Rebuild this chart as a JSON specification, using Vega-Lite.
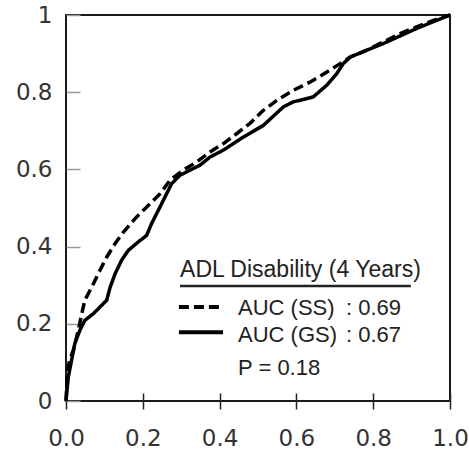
{
  "$schema": "https://vega.github.io/schema/vega-lite/v6.json",
  "width": 384,
  "height": 386,
  "autosize": {"type": "none"},
  "padding": {"left": 66, "top": 15, "right": 19, "bottom": 50},
  "background": "white",
  "config": {
    "view": {"stroke": "#1a1a1a", "strokeWidth": 2},
    "axis": {"grid": false, "domain": false, "title": null, "labelFont": "DejaVu Sans", "labelFontSize": 23, "labelColor": "#333", "labelFlush": false}
  },
  "datasets": {
    "curves": [
      {"s": "GS", "x": 0.0, "y": 0.0},
      {"s": "GS", "x": 0.006, "y": 0.062},
      {"s": "GS", "x": 0.023, "y": 0.149},
      {"s": "GS", "x": 0.036, "y": 0.183},
      {"s": "GS", "x": 0.049, "y": 0.209},
      {"s": "GS", "x": 0.071, "y": 0.226},
      {"s": "GS", "x": 0.093, "y": 0.248},
      {"s": "GS", "x": 0.106, "y": 0.261},
      {"s": "GS", "x": 0.115, "y": 0.295},
      {"s": "GS", "x": 0.128, "y": 0.33},
      {"s": "GS", "x": 0.145, "y": 0.365},
      {"s": "GS", "x": 0.162, "y": 0.39},
      {"s": "GS", "x": 0.188, "y": 0.412},
      {"s": "GS", "x": 0.21, "y": 0.429},
      {"s": "GS", "x": 0.223, "y": 0.46},
      {"s": "GS", "x": 0.245, "y": 0.503},
      {"s": "GS", "x": 0.262, "y": 0.537},
      {"s": "GS", "x": 0.275, "y": 0.563},
      {"s": "GS", "x": 0.297, "y": 0.585},
      {"s": "GS", "x": 0.323, "y": 0.598},
      {"s": "GS", "x": 0.349, "y": 0.611},
      {"s": "GS", "x": 0.375, "y": 0.632},
      {"s": "GS", "x": 0.41, "y": 0.65},
      {"s": "GS", "x": 0.462, "y": 0.684},
      {"s": "GS", "x": 0.514, "y": 0.714},
      {"s": "GS", "x": 0.566, "y": 0.762},
      {"s": "GS", "x": 0.592, "y": 0.775},
      {"s": "GS", "x": 0.618, "y": 0.781},
      {"s": "GS", "x": 0.644, "y": 0.788},
      {"s": "GS", "x": 0.679, "y": 0.818},
      {"s": "GS", "x": 0.705, "y": 0.848},
      {"s": "GS", "x": 0.722, "y": 0.874},
      {"s": "GS", "x": 0.74, "y": 0.891},
      {"s": "GS", "x": 0.826, "y": 0.926},
      {"s": "GS", "x": 0.913, "y": 0.965},
      {"s": "GS", "x": 1.0, "y": 1.0},
      {"s": "SS", "x": 0.0, "y": 0.0},
      {"s": "SS", "x": 0.003, "y": 0.064},
      {"s": "SS", "x": 0.009, "y": 0.105},
      {"s": "SS", "x": 0.019, "y": 0.131},
      {"s": "SS", "x": 0.032, "y": 0.183},
      {"s": "SS", "x": 0.041, "y": 0.226},
      {"s": "SS", "x": 0.049, "y": 0.261},
      {"s": "SS", "x": 0.067, "y": 0.295},
      {"s": "SS", "x": 0.084, "y": 0.33},
      {"s": "SS", "x": 0.106, "y": 0.373},
      {"s": "SS", "x": 0.128, "y": 0.408},
      {"s": "SS", "x": 0.149, "y": 0.437},
      {"s": "SS", "x": 0.184, "y": 0.477},
      {"s": "SS", "x": 0.219, "y": 0.511},
      {"s": "SS", "x": 0.245, "y": 0.537},
      {"s": "SS", "x": 0.271, "y": 0.572},
      {"s": "SS", "x": 0.305, "y": 0.598},
      {"s": "SS", "x": 0.34, "y": 0.619},
      {"s": "SS", "x": 0.375, "y": 0.645},
      {"s": "SS", "x": 0.41, "y": 0.667},
      {"s": "SS", "x": 0.445, "y": 0.693},
      {"s": "SS", "x": 0.479, "y": 0.719},
      {"s": "SS", "x": 0.514, "y": 0.753},
      {"s": "SS", "x": 0.549, "y": 0.779},
      {"s": "SS", "x": 0.592, "y": 0.805},
      {"s": "SS", "x": 0.635, "y": 0.826},
      {"s": "SS", "x": 0.679, "y": 0.852},
      {"s": "SS", "x": 0.714, "y": 0.874},
      {"s": "SS", "x": 0.74, "y": 0.891},
      {"s": "SS", "x": 0.783, "y": 0.909},
      {"s": "SS", "x": 0.826, "y": 0.93},
      {"s": "SS", "x": 0.87, "y": 0.952},
      {"s": "SS", "x": 0.913, "y": 0.969},
      {"s": "SS", "x": 0.957, "y": 0.986},
      {"s": "SS", "x": 1.0, "y": 1.0}
    ],
    "keys": [
      {"s": "SS", "x": 0.294, "x2": 0.409, "y": 0.2435},
      {"s": "GS", "x": 0.294, "x2": 0.409, "y": 0.178}
    ],
    "underline": [
      {"x": 0.297, "x2": 0.898, "y": 0.298}
    ],
    "title": [
      {"t": "ADL Disability (4 Years)", "x": 0.297, "y": 0.32}
    ],
    "rows": [
      {"t": "AUC (SS)", "x": 0.448, "y": 0.222},
      {"t": ": 0.69", "x": 0.729, "y": 0.222},
      {"t": "AUC (GS)", "x": 0.448, "y": 0.153},
      {"t": ": 0.67", "x": 0.729, "y": 0.153},
      {"t": "P = 0.18", "x": 0.448, "y": 0.0666}
    ]
  },
  "layer": [
    {
      "data": {"name": "curves"},
      "mark": {"type": "line", "color": "black", "strokeWidth": 3.5, "strokeJoin": "round"},
      "encoding": {
        "x": {
          "field": "x", "type": "quantitative",
          "scale": {"domain": [0, 1], "nice": false},
          "axis": {"values": [0, 0.2, 0.4, 0.6, 0.8, 1], "format": ".1f", "offset": -8, "tickSize": 16, "tickColor": "#222", "tickWidth": 1.5, "labelPadding": 18}
        },
        "y": {
          "field": "y", "type": "quantitative",
          "scale": {"domain": [0, 1], "nice": false},
          "axis": {"values": [0, 0.2, 0.4, 0.6, 0.8, 1], "format": ".1~f", "offset": -14, "tickSize": 14, "tickColor": "#999", "tickWidth": 1.5, "labelPadding": 14}
        },
        "detail": {"field": "s"},
        "strokeDash": {"field": "s", "type": "nominal", "scale": {"domain": ["SS", "GS"], "range": [[10, 5], [1, 0]]}, "legend": null}
      }
    },
    {
      "data": {"name": "keys"},
      "mark": {"type": "rule", "color": "black", "strokeWidth": 4},
      "encoding": {
        "x": {"field": "x", "type": "quantitative"},
        "x2": {"field": "x2"},
        "y": {"field": "y", "type": "quantitative"},
        "strokeDash": {"field": "s", "type": "nominal", "scale": {"domain": ["SS", "GS"], "range": [[12, 4], [1, 0]]}, "legend": null}
      }
    },
    {
      "data": {"name": "underline"},
      "mark": {"type": "rule", "color": "#222", "strokeWidth": 2.5},
      "encoding": {
        "x": {"field": "x", "type": "quantitative"},
        "x2": {"field": "x2"},
        "y": {"field": "y", "type": "quantitative"}
      }
    },
    {
      "data": {"name": "title"},
      "mark": {"type": "text", "align": "left", "baseline": "alphabetic", "font": "Liberation Sans", "fontSize": 23, "color": "#222"},
      "encoding": {
        "x": {"field": "x", "type": "quantitative"},
        "y": {"field": "y", "type": "quantitative"},
        "text": {"field": "t"}
      }
    },
    {
      "data": {"name": "rows"},
      "mark": {"type": "text", "align": "left", "baseline": "alphabetic", "font": "Liberation Sans", "fontSize": 22, "color": "#222"},
      "encoding": {
        "x": {"field": "x", "type": "quantitative"},
        "y": {"field": "y", "type": "quantitative"},
        "text": {"field": "t"}
      }
    }
  ]
}
